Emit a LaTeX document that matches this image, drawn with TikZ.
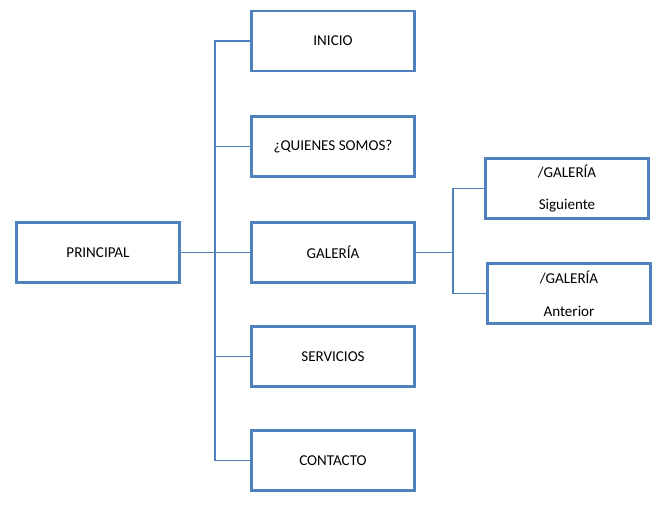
\documentclass[tikz,border=0pt]{standalone}
\usepackage{fontspec}
\setmainfont{Carlito}
\usetikzlibrary{positioning}
\definecolor{boxblue}{RGB}{79,129,189}

\begin{document}
\begin{tikzpicture}[x=0.75pt,y=-0.75pt]
    \tikzstyle{block} = [rectangle,minimum width=122pt,minimum height=45pt,text centered,align=center,draw=boxblue,line width=2.2pt,fill=white,font=\fontsize{11.3}{13}\selectfont]
    \tikzstyle{link} = [draw=boxblue,line width=0.8pt]

    \useasboundingbox (0,0) rectangle (669,510);

    \node (principal) [block] at (98,252.5) {PRINCIPAL};

    \node (inicio) [block] at (333,41) {INICIO};
    \node (quienes) [block] at (333,146.5) {¿QUIENES SOMOS?};
    \node (galeria) [block] at (333,252.5) {GALERÍA};
    \node (servicios) [block] at (333,356.5) {SERVICIOS};
    \node (contacto) [block] at (333,460.5) {CONTACTO};

    \node (siguiente) [block] at (567,188.5) {/GALERÍA\\[11.5pt]Siguiente};
    \node (anterior) [block] at (569,293.5) {/GALERÍA\\[11.5pt]Anterior};

    \coordinate (trunk) at (215,252.5);
    \coordinate (branch) at (453,252.5);

    \draw [link] (principal.east) -- (galeria.west);
    \draw [link] (inicio.west) -| (trunk) |- (contacto.west);
    \draw [link] (quienes.west) -- (quienes.west -| trunk);
    \draw [link] (servicios.west) -- (servicios.west -| trunk);

    \draw [link] (galeria.east) -- (branch);
    \draw [link] (siguiente.west) -| (branch) |- (anterior.west);
\end{tikzpicture}
\end{document}
